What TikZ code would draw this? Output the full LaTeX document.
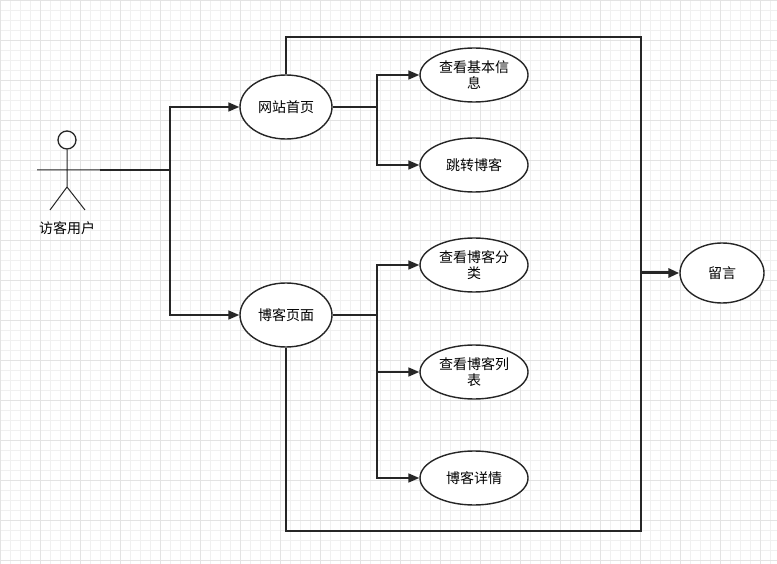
\documentclass[tikz,border=0pt]{standalone}
\usepackage{fontspec}
\setmainfont{Noto Sans CJK SC}
\usetikzlibrary{arrows.meta,shapes.geometric}
\begin{document}
\begin{tikzpicture}[x=1pt,y=-1pt,
  uc/.style={draw=black!85,line width=1.4pt,ellipse,minimum width=#1,minimum height=54pt,inner sep=0pt,align=center,font=\fontsize{14}{16}\selectfont,fill=white},
  uc/.default=108pt,
  ln/.style={draw=black!85,line width=1.5pt},
  ar/.style={ln,-{Triangle[length=11pt,width=9pt]}}]
\useasboundingbox (0,0) rectangle (777,564);
\fill[white] (0,0) rectangle (777,564);
\foreach \i in {0,10,...,780} {\draw[black!6,line width=0.5pt] (\i,0) -- (\i,564);}
\foreach \i in {0,10,...,560} {\draw[black!6,line width=0.5pt] (0,\i) -- (777,\i);}
\foreach \i in {0,40,...,760} {\draw[black!11,line width=0.6pt] (\i,0) -- (\i,564);}
\foreach \i in {0,40,...,560} {\draw[black!11,line width=0.6pt] (0,\i) -- (777,\i);}
% actor
\node[draw=black!85,line width=1.3pt,circle,minimum size=18pt,inner sep=0pt] (head) at (67,140) {};
\coordinate (hip) at (67,187);
\draw[ln,line width=1pt] (head.south) -- (hip) (37,170) -- (100,170) (hip) -- (50,210) (hip) -- (85,210);
\node[font=\fontsize{14}{16}\selectfont] (actlbl) at (67,228) {访客用户};
\coordinate (act) at (100,170);
\coordinate (j1) at (170,170);
% use cases
\node[uc=92pt,minimum height=64pt] (home) at (286,107) {网站首页};
\node[uc=92pt,minimum height=64pt] (blog) at (286,315) {博客页面};
\node[uc] (info) at (474,75) {查看基本信\\息};
\node[uc] (jump) at (474,165) {跳转博客};
\node[uc] (cat) at (474,265) {查看博客分\\类};
\node[uc] (list) at (474,372) {查看博客列\\表};
\node[uc] (det) at (474,478) {博客详情};
\node[uc=84pt,minimum height=60pt] (msg) at (722,273) {留言};
% actor connectors
\draw[ln,line width=2pt] (act) -- (j1);
\draw[ar] (j1) |- (home.west);
\draw[ar] (j1) |- (blog.west);
% system boundary
\coordinate (tl) at (286,37);
\coordinate (tr) at (641,37);
\coordinate (br) at (641,531);
\coordinate (bl) at (286,531);
\draw[ln,line width=1.8pt] (home.north) -- (tl) -- (tr) -- (br) -- (bl) -- (blog.south);
\coordinate (r1) at (641,273);
\draw[ln,line width=3pt,-{Triangle[length=11pt,width=9pt]}] (r1) -- (msg.west);
% branches
\coordinate (b1) at (377,107);
\coordinate (b2) at (377,315);
\draw[ln] (home.east) -- (b1);
\draw[ar] (b1) |- (info.west);
\draw[ar] (b1) |- (jump.west);
\draw[ln,line width=2pt] (blog.east) -- (b2);
\draw[ar] (b2) |- (cat.west);
\draw[ar] (b2) |- (list.west);
\draw[ar] (b2) |- (det.west);
\end{tikzpicture}
\end{document}
